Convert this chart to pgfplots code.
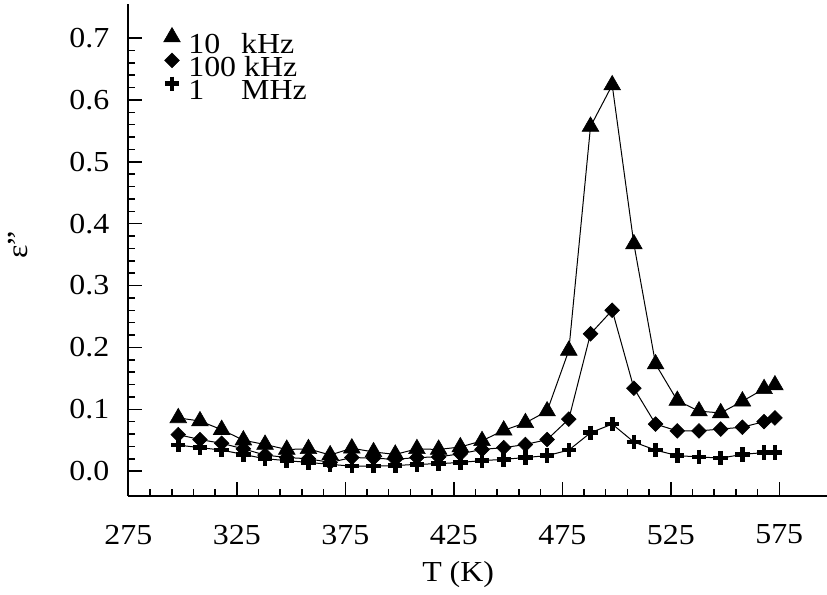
\documentclass[border=0pt]{standalone}
\usepackage{fontspec}
\setmainfont{Liberation Serif}[FakeStretch=1.1]
\usepackage{pgfplots}
\usepackage{pgfplotstable}
\pgfplotsset{compat=1.18}

% T (K), eps'' at 10 kHz, 100 kHz, 1 MHz
\pgfplotstableread{
T   a     b     c
298 0.086 0.059 0.042
308 0.081 0.051 0.038
318 0.067 0.045 0.034
328 0.050 0.036 0.027
338 0.043 0.026 0.020
348 0.035 0.022 0.017
358 0.036 0.020 0.014
368 0.026 0.014 0.011
378 0.037 0.022 0.008
388 0.031 0.021 0.008
398 0.027 0.019 0.009
408 0.036 0.022 0.011
418 0.035 0.023 0.012
428 0.039 0.028 0.014
438 0.049 0.035 0.017
448 0.066 0.038 0.019
458 0.078 0.043 0.022
468 0.097 0.051 0.025
478 0.195 0.084 0.034
488 0.557 0.222 0.062
498 0.624 0.260 0.076
508 0.367 0.134 0.047
518 0.173 0.076 0.034
528 0.114 0.065 0.025
538 0.097 0.065 0.023
548 0.094 0.068 0.021
558 0.113 0.071 0.027
568 0.133 0.080 0.030
573 0.139 0.086 0.030
}\epsdata

\begin{document}
\fontsize{14.5}{16}\selectfont
\begin{tikzpicture}
\begin{axis}[
    name=ax,
    scale only axis,
    width=349.4pt, height=246pt,
    xmin=275, xmax=597,
    ymin=-0.04, ymax=0.755,
    axis lines*=left,
    axis line style={line width=1pt},
    every tick/.style={black, line width=0.75pt},
    major tick length=7pt, minor tick length=3.5pt,
    tick align=inside,
    xtick={275,325,...,575},
    ytick={0,0.1,...,0.7},
    minor x tick num=4,
    minor y tick num=4,
    /pgf/number format/assume math mode=true,
    yticklabel style={/pgf/number format/fixed, /pgf/number format/fixed zerofill,
        /pgf/number format/precision=1, xshift=-4.5pt, font=\fontsize{14.5}{16}\selectfont},
    xticklabel style={yshift=-9.5pt, font=\fontsize{14.5}{16}\selectfont},
    xlabel={T (K)},
    ylabel={ε\char34},
    xlabel style={at={(axis description cs:0.472,-0.16)}, anchor=center, font=\fontsize{14.5}{16}\selectfont},
    ylabel style={at={(axis description cs:-0.158,0.51)}, anchor=center, font=\fontsize{14.5}{16}\selectfont},
    legend image code/.code={
        \path[draw=none, fill=none] (0pt,-1.5pt) rectangle (0pt,9pt);
        \draw[#1, only marks] plot coordinates {(0pt,4.3pt)};},
    legend style={draw=none, fill=none, at={(axis description cs:0.05,0.953)}, anchor=north west,
        inner sep=0pt, column sep=4pt, row sep=-2.6pt, font=\fontsize{14.5}{16}\selectfont,
        nodes={inner sep=0pt, text height=9pt, text depth=1.5pt}},
    legend cell align=left,
]
\addplot[black, line width=0.5pt, mark=triangle*, mark size=4.8pt, mark options={solid, line width=0.3pt}]
    table[x=T, y=a] {\epsdata};
\addlegendentry{\makebox[1.55em][l]{10} kHz}
\addplot[black, line width=0.5pt, mark=square*, mark size=2.6pt, mark options={solid, rotate=45, line width=0.3pt}]
    table[x=T, y=b] {\epsdata};
\addlegendentry{100 kHz}
\addplot[black, line width=0.5pt, mark=+, mark size=3.6pt, mark options={solid, line width=2.3pt}]
    table[x=T, y=c] {\epsdata};
\addlegendentry{\makebox[1.55em][l]{1} MHz}
\end{axis}
\pgfresetboundingbox
\path ([shift={(-64.2pt,-49.5pt)}]ax.south west) rectangle ([shift={(0pt,2pt)}]ax.north east);
\end{tikzpicture}
\end{document}
